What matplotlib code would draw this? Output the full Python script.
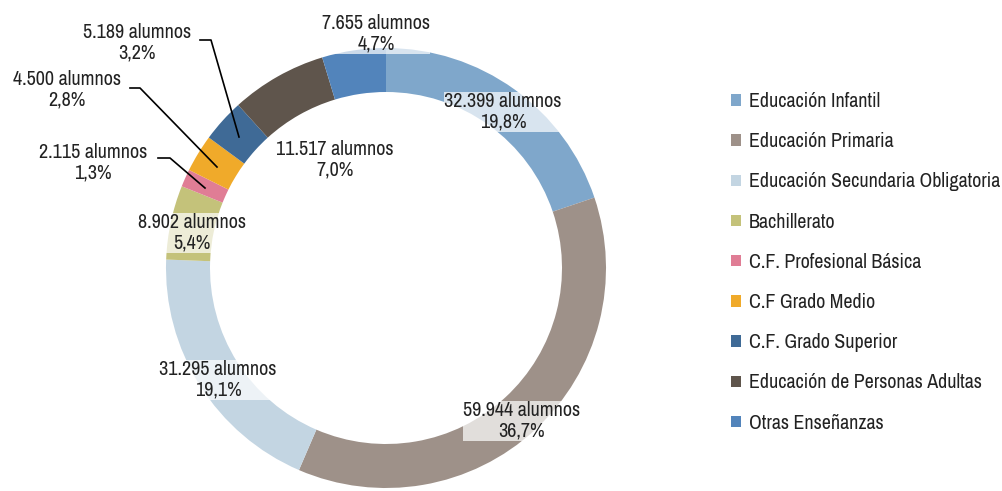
import matplotlib.pyplot as plt

plt.rcParams['font.family'] = ['Archivo Narrow', 'DejaVu Sans']

# data
categories = ['Educación Infantil', 'Educación Primaria', 'Educación Secundaria Obligatoria',
              'Bachillerato', 'C.F. Profesional Básica', 'C.F Grado Medio',
              'C.F. Grado Superior', 'Educación de Personas Adultas', 'Otras Enseñanzas']
alumnos = [32399, 59944, 31295, 8902, 2115, 4500, 5189, 11517, 7655]
alumnos_txt = ['32.399', '59.944', '31.295', '8.902', '2.115', '4.500', '5.189', '11.517', '7.655']
pct_txt = ['19,8%', '36,7%', '19,1%', '5,4%', '1,3%', '2,8%', '3,2%', '7,0%', '4,7%']
colors = ['#7fa7cb', '#9e9189', '#c3d5e2', '#c4c27a', '#e07d95',
          '#f0aa2a', '#3f6a96', '#5f554c', '#5284bb']

W, H = 1003, 491
fig = plt.figure(figsize=(W / 100, H / 100), dpi=100)
ax = fig.add_axes([0, 0, 1, 1])

# ring centred at (386, 268) in image pixels, radius 220
cx, cy, r = 386, H - 268, 220
wedges, _ = ax.pie(alumnos, colors=colors, startangle=90, counterclock=False,
                   center=(cx, cy), radius=r,
                   wedgeprops=dict(width=r * 0.2, linewidth=0))
ax.set_xlim(0, W)
ax.set_ylim(0, H)
ax.set_aspect('equal')
ax.axis('off')

# label positions (image pixels: x centre, y of first line)
label_pos = [(503, 100), (522, 409), (218, 368), (192, 221), (93, 151),
             (67, 78), (137, 31), (335, 148), (376, 22)]
for i, (x, y) in enumerate(label_pos):
    ax.text(x, H - y - 12, f'{alumnos_txt[i]} alumnos\n{pct_txt[i]}',
            ha='center', va='center', fontsize=14.5, color='#222222',
            linespacing=1.12,
            bbox=dict(facecolor='white', alpha=0.7, edgecolor='none', pad=0.3))

# leader lines for the small slices
leaders = [
    [(200, 40), (211, 40), (239, 137)],
    [(130, 88), (140, 88), (217, 167)],
    [(158, 158), (170, 158), (205, 188)],
]
for pts in leaders:
    ax.plot([p[0] for p in pts], [H - p[1] for p in pts], color='black', lw=1.2)

leg = ax.legend(wedges, categories, loc='upper left',
                bbox_to_anchor=(723 / W, 1 - 84 / H), frameon=False,
                fontsize=14.4, handlelength=0.5, handleheight=0.5,
                handletextpad=0.4, labelspacing=1.06, borderaxespad=0)
for t in leg.get_texts():
    t.set_color('#222222')

fig.savefig('out.png', dpi=100)
